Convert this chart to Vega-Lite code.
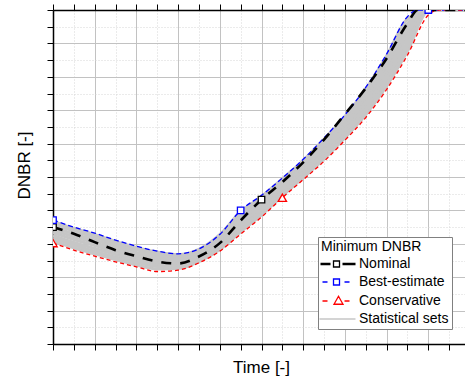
{
  "$schema": "https://vega.github.io/schema/vega-lite/v6.json",
  "width": 412,
  "height": 334,
  "autosize": {"type": "none"},
  "padding": {"left": 53, "top": 10, "right": 0, "bottom": 32},
  "background": "white",
  "config": {"font": "Liberation Sans", "view": {"stroke": null}},
  "datasets": {
    "main": [
      {"series": "Nominal", "x": 0, "y": 3.50}, {"series": "Nominal", "x": 0.5, "y": 3.30}, {"series": "Nominal", "x": 1, "y": 3.05}, {"series": "Nominal", "x": 1.5, "y": 2.81}, {"series": "Nominal", "x": 2, "y": 2.63}, {"series": "Nominal", "x": 2.5, "y": 2.47}, {"series": "Nominal", "x": 3, "y": 2.41}, {"series": "Nominal", "x": 3.5, "y": 2.62}, {"series": "Nominal", "x": 4, "y": 3.02}, {"series": "Nominal", "x": 4.5, "y": 3.70}, {"series": "Nominal", "x": 5, "y": 4.32}, {"series": "Nominal", "x": 5.5, "y": 4.85}, {"series": "Nominal", "x": 6, "y": 5.44}, {"series": "Nominal", "x": 6.5, "y": 6.12}, {"series": "Nominal", "x": 7, "y": 6.88}, {"series": "Nominal", "x": 7.5, "y": 7.66}, {"series": "Nominal", "x": 8, "y": 8.55}, {"series": "Nominal", "x": 8.5, "y": 9.60}, {"series": "Nominal", "x": 8.75, "y": 10.15}, {"series": "Nominal", "x": 9, "y": 10.7}, {"series": "Nominal", "x": 9.5, "y": 11.9}, {"series": "Nominal", "x": 10, "y": 13.0},
      {"series": "Best-estimate", "x": 0, "y": 3.71}, {"series": "Best-estimate", "x": 0.5, "y": 3.50}, {"series": "Best-estimate", "x": 1, "y": 3.32}, {"series": "Best-estimate", "x": 1.5, "y": 3.11}, {"series": "Best-estimate", "x": 2, "y": 2.93}, {"series": "Best-estimate", "x": 2.5, "y": 2.78}, {"series": "Best-estimate", "x": 3, "y": 2.70}, {"series": "Best-estimate", "x": 3.5, "y": 2.85}, {"series": "Best-estimate", "x": 4, "y": 3.28}, {"series": "Best-estimate", "x": 4.5, "y": 4.00}, {"series": "Best-estimate", "x": 5, "y": 4.45}, {"series": "Best-estimate", "x": 5.5, "y": 4.97}, {"series": "Best-estimate", "x": 6, "y": 5.53}, {"series": "Best-estimate", "x": 6.5, "y": 6.17}, {"series": "Best-estimate", "x": 7, "y": 6.86}, {"series": "Best-estimate", "x": 7.5, "y": 7.68}, {"series": "Best-estimate", "x": 8, "y": 8.68}, {"series": "Best-estimate", "x": 8.5, "y": 9.80}, {"series": "Best-estimate", "x": 8.75, "y": 10.4}, {"series": "Best-estimate", "x": 9, "y": 11.0}, {"series": "Best-estimate", "x": 9.5, "y": 12.2}, {"series": "Best-estimate", "x": 10, "y": 13.4},
      {"series": "Conservative", "x": 0, "y": 3.02}, {"series": "Conservative", "x": 0.5, "y": 2.81}, {"series": "Conservative", "x": 1, "y": 2.63}, {"series": "Conservative", "x": 1.5, "y": 2.46}, {"series": "Conservative", "x": 2, "y": 2.31}, {"series": "Conservative", "x": 2.5, "y": 2.17}, {"series": "Conservative", "x": 3, "y": 2.21}, {"series": "Conservative", "x": 3.5, "y": 2.43}, {"series": "Conservative", "x": 4, "y": 2.78}, {"series": "Conservative", "x": 4.5, "y": 3.29}, {"series": "Conservative", "x": 5, "y": 3.80}, {"series": "Conservative", "x": 5.5, "y": 4.38}, {"series": "Conservative", "x": 6, "y": 4.92}, {"series": "Conservative", "x": 6.5, "y": 5.47}, {"series": "Conservative", "x": 7, "y": 6.10}, {"series": "Conservative", "x": 7.5, "y": 6.78}, {"series": "Conservative", "x": 8, "y": 7.62}, {"series": "Conservative", "x": 8.5, "y": 8.65}, {"series": "Conservative", "x": 9, "y": 9.85}, {"series": "Conservative", "x": 9.25, "y": 10.4}, {"series": "Conservative", "x": 9.5, "y": 11.0}, {"series": "Conservative", "x": 10, "y": 12.2}
    ],
    "markers": [
      {"series": "Nominal", "x": 0, "y": 3.50}, {"series": "Nominal", "x": 5, "y": 4.32},
      {"series": "Best-estimate", "x": 0, "y": 3.71}, {"series": "Best-estimate", "x": 4.5, "y": 4.00}, {"series": "Best-estimate", "x": 9, "y": 11.0},
      {"series": "Conservative", "x": 0, "y": 3.02}, {"series": "Conservative", "x": 5.5, "y": 4.38}
    ],
    "stats": [
      {"set": "s1", "x": 0, "y": 3.09}, {"set": "s1", "x": 0.5, "y": 2.88}, {"set": "s1", "x": 1, "y": 2.70}, {"set": "s1", "x": 1.5, "y": 2.53}, {"set": "s1", "x": 2, "y": 2.37}, {"set": "s1", "x": 2.5, "y": 2.25}, {"set": "s1", "x": 3, "y": 2.26}, {"set": "s1", "x": 3.5, "y": 2.47}, {"set": "s1", "x": 4, "y": 2.83}, {"set": "s1", "x": 4.5, "y": 3.36}, {"set": "s1", "x": 5, "y": 3.87}, {"set": "s1", "x": 5.5, "y": 4.44}, {"set": "s1", "x": 6, "y": 4.98}, {"set": "s1", "x": 6.5, "y": 5.54}, {"set": "s1", "x": 7, "y": 6.18}, {"set": "s1", "x": 7.5, "y": 6.87}, {"set": "s1", "x": 8, "y": 7.73}, {"set": "s1", "x": 8.5, "y": 8.77}, {"set": "s1", "x": 9, "y": 9.97}, {"set": "s1", "x": 9.5, "y": 11.12}, {"set": "s1", "x": 10, "y": 12.32},
      {"set": "s2", "x": 0, "y": 3.17}, {"set": "s2", "x": 0.5, "y": 2.96}, {"set": "s2", "x": 1, "y": 2.78}, {"set": "s2", "x": 1.5, "y": 2.60}, {"set": "s2", "x": 2, "y": 2.45}, {"set": "s2", "x": 2.5, "y": 2.32}, {"set": "s2", "x": 3, "y": 2.31}, {"set": "s2", "x": 3.5, "y": 2.52}, {"set": "s2", "x": 4, "y": 2.89}, {"set": "s2", "x": 4.5, "y": 3.45}, {"set": "s2", "x": 5, "y": 3.94}, {"set": "s2", "x": 5.5, "y": 4.51}, {"set": "s2", "x": 6, "y": 5.05}, {"set": "s2", "x": 6.5, "y": 5.62}, {"set": "s2", "x": 7, "y": 6.27}, {"set": "s2", "x": 7.5, "y": 6.98}, {"set": "s2", "x": 8, "y": 7.85}, {"set": "s2", "x": 8.5, "y": 8.90}, {"set": "s2", "x": 9, "y": 10.10}, {"set": "s2", "x": 9.5, "y": 11.26}, {"set": "s2", "x": 10, "y": 12.46},
      {"set": "s3", "x": 0, "y": 3.25}, {"set": "s3", "x": 0.5, "y": 3.04}, {"set": "s3", "x": 1, "y": 2.86}, {"set": "s3", "x": 1.5, "y": 2.68}, {"set": "s3", "x": 2, "y": 2.52}, {"set": "s3", "x": 2.5, "y": 2.39}, {"set": "s3", "x": 3, "y": 2.37}, {"set": "s3", "x": 3.5, "y": 2.57}, {"set": "s3", "x": 4, "y": 2.96}, {"set": "s3", "x": 4.5, "y": 3.53}, {"set": "s3", "x": 5, "y": 4.02}, {"set": "s3", "x": 5.5, "y": 4.58}, {"set": "s3", "x": 6, "y": 5.13}, {"set": "s3", "x": 6.5, "y": 5.71}, {"set": "s3", "x": 7, "y": 6.36}, {"set": "s3", "x": 7.5, "y": 7.09}, {"set": "s3", "x": 8, "y": 7.98}, {"set": "s3", "x": 8.5, "y": 9.04}, {"set": "s3", "x": 9, "y": 10.24}, {"set": "s3", "x": 9.5, "y": 11.41}, {"set": "s3", "x": 10, "y": 12.61},
      {"set": "s4", "x": 0, "y": 3.34}, {"set": "s4", "x": 0.5, "y": 3.13}, {"set": "s4", "x": 1, "y": 2.95}, {"set": "s4", "x": 1.5, "y": 2.76}, {"set": "s4", "x": 2, "y": 2.60}, {"set": "s4", "x": 2.5, "y": 2.46}, {"set": "s4", "x": 3, "y": 2.43}, {"set": "s4", "x": 3.5, "y": 2.62}, {"set": "s4", "x": 4, "y": 3.02}, {"set": "s4", "x": 4.5, "y": 3.62}, {"set": "s4", "x": 5, "y": 4.10}, {"set": "s4", "x": 5.5, "y": 4.65}, {"set": "s4", "x": 6, "y": 5.20}, {"set": "s4", "x": 6.5, "y": 5.79}, {"set": "s4", "x": 7, "y": 6.45}, {"set": "s4", "x": 7.5, "y": 7.19}, {"set": "s4", "x": 8, "y": 8.11}, {"set": "s4", "x": 8.5, "y": 9.18}, {"set": "s4", "x": 9, "y": 10.38}, {"set": "s4", "x": 9.5, "y": 11.55}, {"set": "s4", "x": 10, "y": 12.75},
      {"set": "s5", "x": 0, "y": 3.42}, {"set": "s5", "x": 0.5, "y": 3.21}, {"set": "s5", "x": 1, "y": 3.03}, {"set": "s5", "x": 1.5, "y": 2.84}, {"set": "s5", "x": 2, "y": 2.67}, {"set": "s5", "x": 2.5, "y": 2.53}, {"set": "s5", "x": 3, "y": 2.49}, {"set": "s5", "x": 3.5, "y": 2.67}, {"set": "s5", "x": 4, "y": 3.08}, {"set": "s5", "x": 4.5, "y": 3.70}, {"set": "s5", "x": 5, "y": 4.18}, {"set": "s5", "x": 5.5, "y": 4.72}, {"set": "s5", "x": 6, "y": 5.27}, {"set": "s5", "x": 6.5, "y": 5.88}, {"set": "s5", "x": 7, "y": 6.54}, {"set": "s5", "x": 7.5, "y": 7.30}, {"set": "s5", "x": 8, "y": 8.24}, {"set": "s5", "x": 8.5, "y": 9.32}, {"set": "s5", "x": 9, "y": 10.52}, {"set": "s5", "x": 9.5, "y": 11.70}, {"set": "s5", "x": 10, "y": 12.90},
      {"set": "s6", "x": 0, "y": 3.50}, {"set": "s6", "x": 0.5, "y": 3.29}, {"set": "s6", "x": 1, "y": 3.11}, {"set": "s6", "x": 1.5, "y": 2.92}, {"set": "s6", "x": 2, "y": 2.74}, {"set": "s6", "x": 2.5, "y": 2.60}, {"set": "s6", "x": 3, "y": 2.55}, {"set": "s6", "x": 3.5, "y": 2.72}, {"set": "s6", "x": 4, "y": 3.14}, {"set": "s6", "x": 4.5, "y": 3.79}, {"set": "s6", "x": 5, "y": 4.26}, {"set": "s6", "x": 5.5, "y": 4.79}, {"set": "s6", "x": 6, "y": 5.35}, {"set": "s6", "x": 6.5, "y": 5.96}, {"set": "s6", "x": 7, "y": 6.63}, {"set": "s6", "x": 7.5, "y": 7.41}, {"set": "s6", "x": 8, "y": 8.36}, {"set": "s6", "x": 8.5, "y": 9.46}, {"set": "s6", "x": 9, "y": 10.66}, {"set": "s6", "x": 9.5, "y": 11.84}, {"set": "s6", "x": 10, "y": 13.04},
      {"set": "s7", "x": 0, "y": 3.59}, {"set": "s7", "x": 0.5, "y": 3.38}, {"set": "s7", "x": 1, "y": 3.20}, {"set": "s7", "x": 1.5, "y": 2.99}, {"set": "s7", "x": 2, "y": 2.82}, {"set": "s7", "x": 2.5, "y": 2.67}, {"set": "s7", "x": 3, "y": 2.61}, {"set": "s7", "x": 3.5, "y": 2.77}, {"set": "s7", "x": 4, "y": 3.21}, {"set": "s7", "x": 4.5, "y": 3.87}, {"set": "s7", "x": 5, "y": 4.33}, {"set": "s7", "x": 5.5, "y": 4.86}, {"set": "s7", "x": 6, "y": 5.42}, {"set": "s7", "x": 6.5, "y": 6.04}, {"set": "s7", "x": 7, "y": 6.72}, {"set": "s7", "x": 7.5, "y": 7.52}, {"set": "s7", "x": 8, "y": 8.49}, {"set": "s7", "x": 8.5, "y": 9.59}, {"set": "s7", "x": 9, "y": 10.79}, {"set": "s7", "x": 9.5, "y": 11.98}, {"set": "s7", "x": 10, "y": 13.18},
      {"set": "s8", "x": 0, "y": 3.67}, {"set": "s8", "x": 0.5, "y": 3.46}, {"set": "s8", "x": 1, "y": 3.28}, {"set": "s8", "x": 1.5, "y": 3.07}, {"set": "s8", "x": 2, "y": 2.89}, {"set": "s8", "x": 2.5, "y": 2.75}, {"set": "s8", "x": 3, "y": 2.67}, {"set": "s8", "x": 3.5, "y": 2.83}, {"set": "s8", "x": 4, "y": 3.27}, {"set": "s8", "x": 4.5, "y": 3.96}, {"set": "s8", "x": 5, "y": 4.41}, {"set": "s8", "x": 5.5, "y": 4.94}, {"set": "s8", "x": 6, "y": 5.49}, {"set": "s8", "x": 6.5, "y": 6.13}, {"set": "s8", "x": 7, "y": 6.81}, {"set": "s8", "x": 7.5, "y": 7.63}, {"set": "s8", "x": 8, "y": 8.62}, {"set": "s8", "x": 8.5, "y": 9.73}, {"set": "s8", "x": 9, "y": 10.93}, {"set": "s8", "x": 9.5, "y": 12.13}, {"set": "s8", "x": 10, "y": 13.33}
    ]
  },
  "layer": [
    {
      "data": {"name": "stats"},
      "mark": {"type": "line", "clip": true, "strokeWidth": 3.2, "color": "#c6c6c6", "interpolate": "monotone"},
      "encoding": {
        "x": {
          "field": "x", "type": "quantitative",
          "scale": {"domain": [0, 9.88], "nice": false, "zero": false},
          "axis": {
            "orient": "bottom",
            "values": [0, 0.5, 1, 1.5, 2, 2.5, 3, 3.5, 4, 4.5, 5, 5.5, 6, 6.5, 7, 7.5, 8, 8.5, 9, 9.5],
            "labels": false,
            "grid": true,
            "gridColor": {"condition": {"test": "datum.value % 1 !== 0", "value": "#d6d6d6"}, "value": "#c2c2c2"},
            "gridDash": {"condition": {"test": "datum.value % 1 !== 0", "value": [1, 2]}, "value": []},
            "gridWidth": 1,
            "domainColor": "black", "domainWidth": 1.5,
            "tickColor": "black", "tickWidth": 1, "tickSize": 6,
            "encode": {"ticks": {"update": {"y2": {"signal": "datum.value % 1 === 0 ? -6 : -3"}}}},
            "title": "Time [-]", "titleFont": "Liberation Sans", "titleFontSize": 17, "titleFontWeight": "normal", "titleColor": "black",
            "titleX": 208, "titleY": 28, "titleBaseline": "alphabetic", "titleAlign": "center"
          }
        },
        "y": {
          "field": "y", "type": "quantitative",
          "scale": {"domain": [0, 10], "nice": false, "zero": false, "clamp": true},
          "axis": {
            "orient": "left",
            "values": [0, 0.5, 1, 1.5, 2, 2.5, 3, 3.5, 4, 4.5, 5, 5.5, 6, 6.5, 7, 7.5, 8, 8.5, 9, 9.5, 10],
            "labels": false,
            "grid": true,
            "gridColor": {"condition": {"test": "datum.value % 1 !== 0", "value": "#d6d6d6"}, "value": "#c2c2c2"},
            "gridDash": {"condition": {"test": "datum.value % 1 !== 0", "value": [1, 2]}, "value": []},
            "gridWidth": 1,
            "domainColor": "black", "domainWidth": 1.5,
            "tickColor": "black", "tickWidth": 1, "tickSize": 6,
            "encode": {"ticks": {"update": {"x2": {"signal": "datum.value % 1 === 0 ? 6 : 3"}}}},
            "title": "DNBR [-]", "titleFont": "Liberation Sans", "titleFontSize": 17, "titleFontWeight": "normal", "titleColor": "black",
            "titleX": -24, "titleY": 155, "titleAngle": 270, "titleBaseline": "alphabetic", "titleAlign": "center"
          }
        },
        "detail": {"field": "set", "type": "nominal"}
      }
    },
    {
      "data": {"name": "main"},
      "transform": [{"filter": "datum.series !== 'Nominal'"}],
      "mark": {"type": "line", "clip": true, "strokeWidth": 1.3, "interpolate": "monotone"},
      "encoding": {
        "x": {
          "field": "x", "type": "quantitative",
          "scale": {"domain": [0, 9.88], "nice": false, "zero": false},
          "axis": {
            "orient": "top",
            "values": [0, 0.5, 1, 1.5, 2, 2.5, 3, 3.5, 4, 4.5, 5, 5.5, 6, 6.5, 7, 7.5, 8, 8.5, 9, 9.5],
            "labels": false, "grid": false,
            "domainColor": "black", "domainWidth": 1.5,
            "tickColor": "black", "tickWidth": 1, "tickSize": 6,
            "encode": {"ticks": {"update": {"y2": {"signal": "datum.value % 1 === 0 ? 6 : 3"}}}},
            "title": null
          }
        },
        "y": {"field": "y", "type": "quantitative", "scale": {"domain": [0, 10], "nice": false, "zero": false, "clamp": true}, "axis": null},
        "stroke": {
          "field": "series", "type": "nominal",
          "scale": {"domain": ["Nominal", "Best-estimate", "Conservative", "Statistical sets"], "range": ["#000000", "#0000ff", "#ff0000", "#c6c6c6"]},
          "legend": {
            "title": "Minimum DNBR",
            "orient": "none", "legendX": 265, "legendY": 227,
            "padding": 3,
            "strokeColor": "#808080", "fillColor": "white",
            "titleFont": "Liberation Sans", "titleFontSize": 14, "titleFontWeight": "normal", "titleColor": "black", "titlePadding": 3,
            "labelFont": "Liberation Sans", "labelFontSize": 14, "labelColor": "black", "labelOffset": 24,
            "symbolSize": 100, "symbolStrokeWidth": 1.3,
            "rowPadding": 4,
            "encode": {
              "symbols": {
                "update": {
                  "shape": {"signal": "datum.value === 'Nominal' ? 'M-1.5,-0.14H0.5M-1.5,0.14H0.5M2.9,-0.14H5.5M2.9,0.14H5.5M1.1,-0.6H2.3V0.6H1.1Z' : datum.value === 'Best-estimate' ? 'M-1.1,0H-0.1M3.3,0H4.3M1.1,-0.6H2.3V0.6H1.1Z' : datum.value === 'Conservative' ? 'M-1.1,0H-0.1M3.3,0H4.3M1.2,0.65H3.0L2.1,-0.95Z' : 'M-1.7,0H5.5'"},
                  "fill": {"value": "transparent"},
                  "strokeWidth": {"value": 1.3},
                  "strokeDash": {"value": []},
                  "opacity": {"value": 1}
                }
              }
            }
          }
        },
        "strokeDash": {
          "field": "series", "type": "nominal",
          "scale": {"domain": ["Nominal", "Best-estimate", "Conservative"], "range": [[10, 9], [5, 3], [4, 3]]},
          "legend": null
        }
      }
    },
    {
      "data": {"name": "main"},
      "transform": [{"filter": "datum.series === 'Nominal'"}],
      "mark": {"type": "line", "clip": true, "strokeWidth": 2.6, "interpolate": "monotone"},
      "encoding": {
        "x": {"field": "x", "type": "quantitative", "scale": {"domain": [0, 9.88], "nice": false, "zero": false}, "axis": null},
        "y": {"field": "y", "type": "quantitative", "scale": {"domain": [0, 10], "nice": false, "zero": false, "clamp": true}, "axis": null},
        "stroke": {"field": "series", "type": "nominal", "scale": {"domain": ["Nominal", "Best-estimate", "Conservative", "Statistical sets"], "range": ["#000000", "#0000ff", "#ff0000", "#c6c6c6"]}, "legend": null},
        "strokeDash": {"field": "series", "type": "nominal", "scale": {"domain": ["Nominal", "Best-estimate", "Conservative"], "range": [[10, 9], [5, 3], [4, 3]]}, "legend": null}
      }
    },
    {
      "data": {"name": "markers"},
      "transform": [{"filter": "datum.series !== 'Conservative'"}],
      "mark": {"type": "point", "clip": true, "shape": "square", "size": 42, "filled": false, "fill": "white", "fillOpacity": 1, "strokeWidth": 1.3, "opacity": 1},
      "encoding": {
        "x": {"field": "x", "type": "quantitative", "scale": {"domain": [0, 9.88], "nice": false, "zero": false}, "axis": null},
        "y": {"field": "y", "type": "quantitative", "scale": {"domain": [0, 10], "nice": false, "zero": false, "clamp": true}, "axis": null},
        "stroke": {"field": "series", "type": "nominal", "scale": {"domain": ["Nominal", "Best-estimate", "Conservative", "Statistical sets"], "range": ["#000000", "#0000ff", "#ff0000", "#c6c6c6"]}, "legend": null}
      }
    },
    {
      "data": {"name": "markers"},
      "transform": [{"filter": "datum.series === 'Conservative'"}],
      "mark": {"type": "point", "clip": true, "shape": "triangle-up", "size": 70, "filled": false, "fill": "white", "fillOpacity": 1, "strokeWidth": 1.3, "opacity": 1},
      "encoding": {
        "x": {"field": "x", "type": "quantitative", "scale": {"domain": [0, 9.88], "nice": false, "zero": false}, "axis": null},
        "y": {"field": "y", "type": "quantitative", "scale": {"domain": [0, 10], "nice": false, "zero": false, "clamp": true}, "axis": null},
        "stroke": {"field": "series", "type": "nominal", "scale": {"domain": ["Nominal", "Best-estimate", "Conservative", "Statistical sets"], "range": ["#000000", "#0000ff", "#ff0000", "#c6c6c6"]}, "legend": null}
      }
    }
  ],
  "resolve": {"axis": {"x": "independent", "y": "independent"}}
}
